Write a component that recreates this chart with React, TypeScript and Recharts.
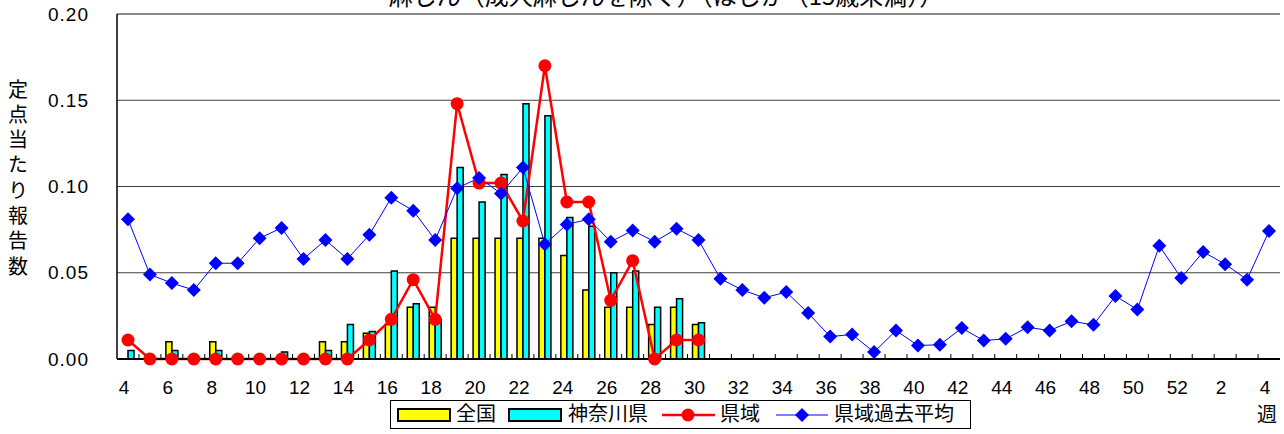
import React from 'react';
import {
  ComposedChart,
  Bar,
  Line,
  XAxis,
  YAxis,
  CartesianGrid,
  ReferenceLine,
} from 'recharts';

// weeks shown on the x axis (week 4 of this season through week 4 of the next year)
const weeks = [
  4, 5, 6, 7, 8, 9, 10, 11, 12, 13, 14, 15, 16, 17, 18, 19, 20, 21, 22, 23,
  24, 25, 26, 27, 28, 29, 30, 31, 32, 33, 34, 35, 36, 37, 38, 39, 40, 41, 42,
  43, 44, 45, 46, 47, 48, 49, 50, 51, 52, 1, 2, 3, 4,
];

// 全国 (weeks 4-30)
const national = [
  0, 0, 0.01, 0, 0.01, 0, 0, 0, 0, 0.01, 0.01, 0.015, 0.02, 0.03, 0.03, 0.07,
  0.07, 0.07, 0.07, 0.07, 0.06, 0.04, 0.03, 0.03, 0.02, 0.03, 0.02,
];

// 神奈川県 (weeks 4-30)
const kanagawa = [
  0.005, 0, 0.005, 0, 0.005, 0, 0, 0.004, 0, 0.005, 0.02, 0.016, 0.051, 0.032,
  0.023, 0.111, 0.091, 0.107, 0.148, 0.141, 0.082, 0.077, 0.05, 0.051, 0.03,
  0.035, 0.021,
];

// 県域 (weeks 4-30)
const prefecture = [
  0.011, 0, 0, 0, 0, 0, 0, 0, 0, 0, 0, 0.011, 0.023, 0.046, 0.023, 0.148,
  0.102, 0.102, 0.08, 0.17, 0.091, 0.091, 0.034, 0.057, 0, 0.011, 0.011,
];

// 県域過去平均 (all weeks)
const pastAverage = [
  0.081, 0.049, 0.044, 0.04, 0.0555, 0.0555, 0.07, 0.076, 0.058, 0.069, 0.058,
  0.072, 0.0935, 0.086, 0.069, 0.099, 0.105, 0.096, 0.111, 0.0665, 0.078,
  0.081, 0.068, 0.0745, 0.068, 0.0755, 0.069, 0.0465, 0.04, 0.0355, 0.0388,
  0.0266, 0.013, 0.0142, 0.004, 0.0165, 0.0078, 0.0083, 0.0179, 0.0107,
  0.0117, 0.0184, 0.0165, 0.0219, 0.0198, 0.0365, 0.0287, 0.0656, 0.047,
  0.0621, 0.055, 0.046, 0.0742,
];

const yTicks = [0, 0.05, 0.1, 0.15, 0.2];

const data = weeks.map((week, i) => ({
  idx: i,
  week,
  national: i < national.length ? national[i] : null,
  kanagawa: i < kanagawa.length ? kanagawa[i] : null,
  prefecture: i < prefecture.length ? prefecture[i] : null,
  pastAverage: pastAverage[i],
}));

const WIDTH = 1284;
const HEIGHT = 434;
const PLOT_LEFT = 117;
const PLOT_RIGHT = 1280;
const PLOT_BOTTOM = 359;
const HALF_BAND = (PLOT_RIGHT - PLOT_LEFT) / weeks.length / 2;

const NUM_FONT = "'Liberation Sans', Arial, sans-serif";
const JP_FONT = "'Noto Sans CJK JP', 'Noto Sans CJK SC', sans-serif";

function WeekTick(props: any) {
  const { x, y, payload, index } = props;
  const i = typeof index === 'number' ? index : payload.value;
  return (
    <g>
      {i > 0 && (
        <line
          x1={x - HALF_BAND}
          x2={x - HALF_BAND}
          y1={y}
          y2={y - 5}
          stroke="#000"
          strokeWidth={1}
        />
      )}
      {i % 2 === 0 && (
        <text
          x={x - 4}
          y={y + 35}
          textAnchor="middle"
          fontSize={19}
          fontFamily={NUM_FONT}
          fill="#000"
        >
          {weeks[payload.value]}
        </text>
      )}
    </g>
  );
}

function Diamond(props: any) {
  const { cx, cy, index } = props;
  if (cx == null || cy == null) return null;
  const s = 7;
  return (
    <polygon
      key={`dia-${index}`}
      points={`${cx},${cy - s} ${cx + s},${cy} ${cx},${cy + s} ${cx - s},${cy}`}
      fill="#0000ff"
    />
  );
}

export default function App() {
  return (
    <div style={{ position: 'relative', width: WIDTH, height: HEIGHT, background: '#fff' }}>
      <style>{'body{margin:0}'}</style>
      <ComposedChart
        width={WIDTH}
        height={HEIGHT}
        data={data}
        margin={{ top: 14, right: WIDTH - PLOT_RIGHT, bottom: 0, left: 0 }}
        barGap={0}
      >
        <CartesianGrid vertical={false} stroke="#404040" strokeWidth={1} />
        <XAxis
          dataKey="idx"
          type="category"
          interval={0}
          height={HEIGHT - PLOT_BOTTOM}
          tickLine={false}
          tickSize={0}
          tickMargin={0}
          tick={<WeekTick />}
          axisLine={{ stroke: '#000', strokeWidth: 2 }}
        />
        <YAxis
          domain={[0, 0.2]}
          ticks={yTicks}
          width={PLOT_LEFT}
          tickLine={false}
          tickSize={0}
          tickMargin={28}
          tickFormatter={(v: number) => v.toFixed(2)}
          tick={{ fontSize: 19, fill: '#000', fontFamily: NUM_FONT, letterSpacing: 1 }}
          axisLine={{ stroke: '#000', strokeWidth: 1.5 }}
        />
        <YAxis
          yAxisId="right"
          orientation="right"
          domain={[0, 1]}
          width={0}
          tick={false}
          tickLine={false}
          axisLine={{ stroke: '#888', strokeWidth: 2 }}
        />
        <ReferenceLine y={0.2} stroke="#888" strokeWidth={2} />
        <Bar
          dataKey="national"
          name="全国"
          fill="#ffff00"
          stroke="#000"
          strokeWidth={1.5}
          barSize={6}
          isAnimationActive={false}
        />
        <Bar
          dataKey="kanagawa"
          name="神奈川県"
          fill="#00ffff"
          stroke="#000"
          strokeWidth={1.5}
          barSize={6}
          isAnimationActive={false}
        />
        <Line
          dataKey="prefecture"
          name="県域"
          stroke="#ff0000"
          strokeWidth={2.5}
          dot={{ r: 6.5, fill: '#ff0000', stroke: '#ff0000', strokeWidth: 0 }}
          activeDot={false}
          isAnimationActive={false}
        />
        <Line
          dataKey="pastAverage"
          name="県域過去平均"
          stroke="#0000ff"
          strokeWidth={1}
          dot={Diamond}
          activeDot={false}
          isAnimationActive={false}
        />
      </ComposedChart>

      <svg
        width={WIDTH}
        height={HEIGHT}
        style={{ position: 'absolute', left: 0, top: 0, pointerEvents: 'none' }}
      >
        <text x={666} y={5} textAnchor="middle" fontSize={24} fontFamily={JP_FONT} fill="#000">
          麻しん（成人麻しんを除く）（はしか（15歳未満））
        </text>
        <text
          x={18}
          y={79}
          fontSize={20}
          fontFamily={JP_FONT}
          fill="#000"
          letterSpacing={5.3}
          style={{ writingMode: 'vertical-rl', textOrientation: 'upright' } as any}
        >
          定点当たり報告数
        </text>
        <text x={1267} y={422} textAnchor="middle" fontSize={20} fontFamily={JP_FONT} fill="#000">
          週
        </text>

        {/* legend */}
        <rect x={390.5} y={400.5} width={580} height={28} fill="#fff" stroke="#000" strokeWidth={1} />
        <rect x={398} y={409} width={52} height={12} fill="#ffff00" stroke="#000" strokeWidth={2} />
        <text x={456} y={421} fontSize={20} fontFamily={JP_FONT} fill="#000">全国</text>
        <rect x={509} y={409} width={52} height={12} fill="#00ffff" stroke="#000" strokeWidth={2} />
        <text x={568} y={421} fontSize={20} fontFamily={JP_FONT} fill="#000">神奈川県</text>
        <line x1={662} x2={715} y1={415} y2={415} stroke="#ff0000" strokeWidth={2.5} />
        <circle cx={688} cy={415} r={6.5} fill="#ff0000" />
        <text x={720} y={421} fontSize={20} fontFamily={JP_FONT} fill="#000">県域</text>
        <line x1={776} x2={828} y1={415} y2={415} stroke="#0000ff" strokeWidth={1} />
        <polygon points="802,408 809,415 802,422 795,415" fill="#0000ff" />
        <text x={834} y={421} fontSize={20} fontFamily={JP_FONT} fill="#000">県域過去平均</text>
      </svg>
    </div>
  );
}
